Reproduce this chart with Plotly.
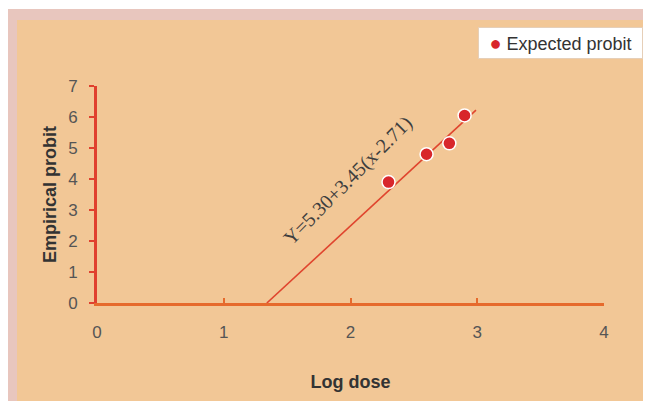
import plotly.graph_objects as go

log_dose = [2.30, 2.60, 2.78, 2.90]
probit = [3.9, 4.8, 5.15, 6.05]
fit_x = [1.34, 2.99]
fit_y = [0.0, 6.22]
x_ticks = [0, 1, 2, 3, 4]
y_ticks = [0, 1, 2, 3, 4, 5, 6, 7]
equation = "Y=5.30+3.45(x-2.71)"
series_name = "Expected probit"

OFF = 8  # page body margin
W, H = 651 - OFF, 401 - OFF
L, T = 97 - OFF, 86 - OFF
R = W - (604 - OFF)
B = H - (303 - OFF)
PW, PH = W - L - R, H - T - B

def px(xp):  # page pixel -> paper
    return (xp - OFF - L) / PW

def py(yp):
    return (H - B - (yp - OFF)) / PH

fig = go.Figure()
fig.add_trace(go.Scatter(x=fit_x, y=fit_y, mode="lines",
                         line=dict(color="#E0452E", width=1.6),
                         showlegend=False, hoverinfo="skip"))
fig.add_trace(go.Scatter(x=log_dose, y=probit, mode="markers", name=series_name,
                         showlegend=False,
                         marker=dict(color="#D8262B", size=13,
                                     line=dict(color="white", width=1.5))))

fig.add_shape(type="rect", xref="paper", yref="paper", layer="below",
              x0=px(7), x1=px(660), y0=py(410), y1=py(9),
              fillcolor="#E8C6BE", line=dict(width=0))
fig.add_shape(type="rect", xref="paper", yref="paper", layer="below",
              x0=px(17), x1=px(648), y0=py(410), y1=py(20),
              fillcolor="#F2C796", line=dict(width=0))

fig.add_annotation(x=1.98, y=3.95, text=equation, showarrow=False, textangle=-45,
                   font=dict(family="Liberation Serif, Times New Roman, serif", size=20, color="#3E3E3E"))

# legend box
fig.add_annotation(xref="paper", yref="paper", x=px(478), y=py(27), xanchor="left", yanchor="top",
                   text='<span style="color:#D8262B;font-size:20px">●</span> ' + series_name,
                   showarrow=False, bgcolor="white", bordercolor="#E6CFB8", borderwidth=1,
                   borderpad=4, width=155, align="center",
                   font=dict(family="Liberation Sans, Arial, sans-serif", size=18, color="#333333"))

fig.update_layout(
    width=W, height=H,
    margin=dict(l=L, r=R, t=T, b=B, autoexpand=False),
    paper_bgcolor="white", plot_bgcolor="rgba(0,0,0,0)",
    font=dict(family="Liberation Sans, Arial, sans-serif", color="#555555"),
    showlegend=False,
    xaxis=dict(range=[0, 4], tickvals=x_ticks, showgrid=False, zeroline=False, automargin=False,
               showline=True, linecolor="#E66A2C", linewidth=3,
               ticks="inside", ticklen=5, tickcolor="#E66A2C", tickwidth=2,
               ticklabelstandoff=12,
               tickfont=dict(size=17, color="#555555"),
               title=dict(text="<b>Log dose</b>", font=dict(size=18, color="#333333"), standoff=34)),
    yaxis=dict(range=[0, 7], tickvals=y_ticks, showgrid=False, zeroline=False, automargin=False,
               showline=True, linecolor="#E0402E", linewidth=3,
               ticks="outside", ticklen=5, tickcolor="#E0402E", tickwidth=2,
               ticklabelstandoff=8,
               tickfont=dict(size=17, color="#555555"),
               title=dict(text="<b>Empirical probit</b>", font=dict(size=18, color="#333333"), standoff=7)),
)
fig.write_html("out.html")
